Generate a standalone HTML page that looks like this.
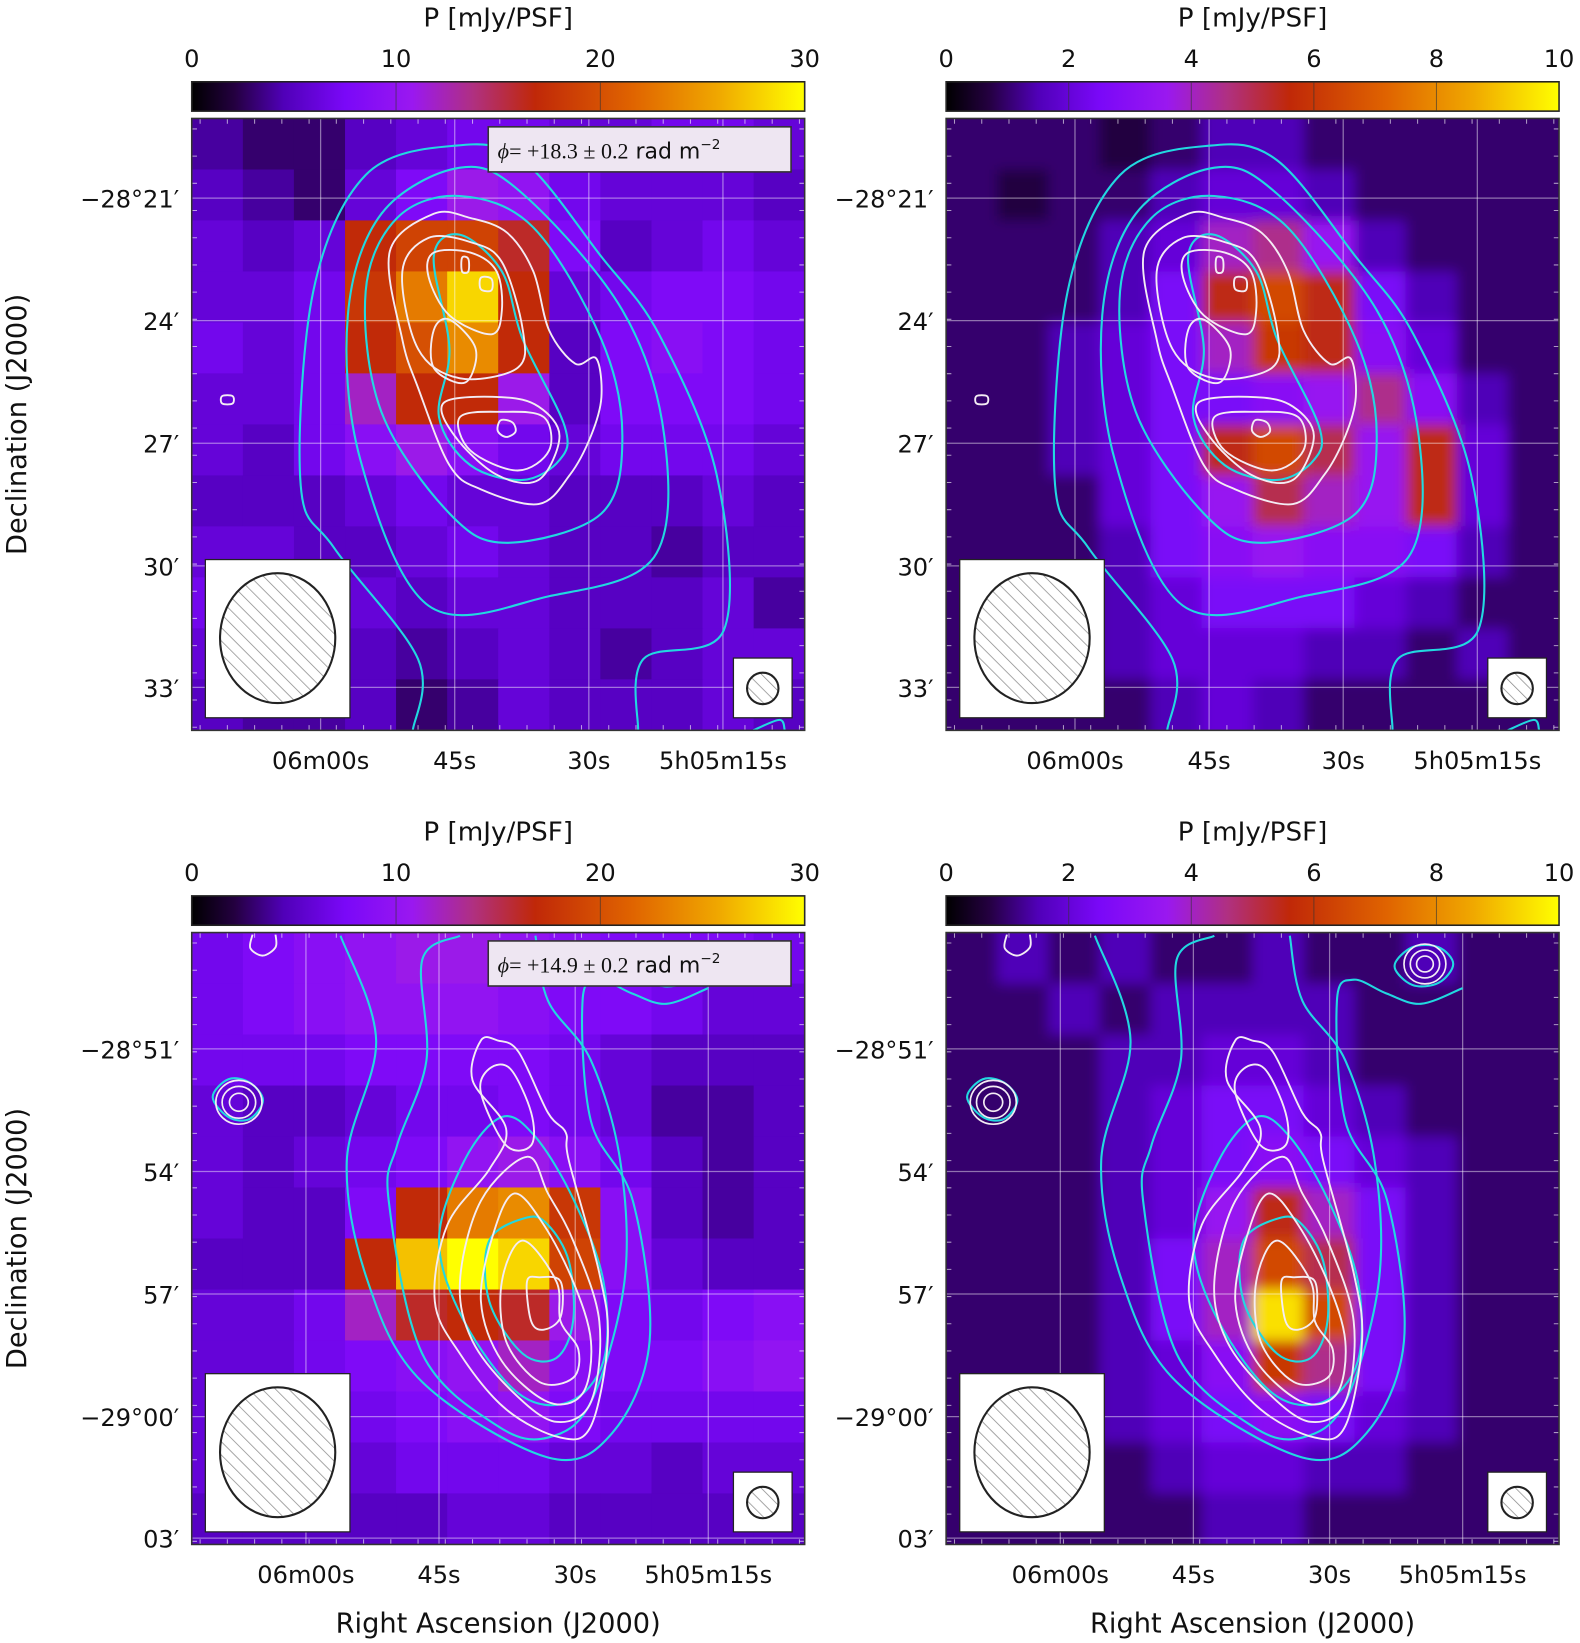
<!DOCTYPE html>
<html><head><meta charset="utf-8">
<style>
html,body{margin:0;padding:0;background:#fff;}
svg{display:block;}
text{font-family:"DejaVu Sans","Liberation Sans",sans-serif;fill:#111;}
</style></head>
<body>
<svg id="fig" xmlns="http://www.w3.org/2000/svg" width="1580" height="1643" viewBox="0 0 1508 1568">
<defs>
<pattern id="hatch" patternUnits="userSpaceOnUse" width="9" height="9" patternTransform="rotate(-45)">
<line x1="0" y1="0" x2="0" y2="9" stroke="#888" stroke-width="1.4"/>
</pattern>
<filter id="blur" x="-5%" y="-5%" width="110%" height="110%"><feGaussianBlur stdDeviation="6"/></filter>
<linearGradient id="cmap" x1="0" x2="1" y1="0" y2="0">
<stop offset="0" stop-color="#000000"/><stop offset="0.07" stop-color="#240040"/>
<stop offset="0.15" stop-color="#5000b8"/><stop offset="0.25" stop-color="#7a08f8"/>
<stop offset="0.36" stop-color="#9a18f0"/><stop offset="0.46" stop-color="#b03080"/>
<stop offset="0.56" stop-color="#c02808"/><stop offset="0.72" stop-color="#e06400"/>
<stop offset="0.86" stop-color="#f0a800"/><stop offset="1" stop-color="#ffff00"/>
</linearGradient>
</defs>
</svg>
<script>
// ---- data ----
const gridTL = [
[4,3,3,5,6,7,7,6,6,7,7,6],
[5,4,3,6,8,11,10,7,6,6,6,5],
[6,5,6,17,19,19,16,8,5,6,7,6],
[6,6,7,18,23,28,17,6,7,8,8,7],
[7,6,7,17,20,24,17,5,8,9,8,7],
[6,6,7,12,17,17,11,5,8,8,8,7],
[6,5,7,9,11,9,7,6,7,7,7,6],
[5,5,5,6,7,6,6,5,5,5,6,5],
[6,6,5,5,6,7,6,5,5,4,5,5],
[7,7,6,6,5,6,6,5,5,5,6,4],
[6,6,5,5,4,5,6,5,4,5,6,6],
[5,4,4,5,3,4,6,5,5,5,6,5]];
const gridTR = [
[1,1,1,0.7,1,1.5,1.5,1,1,1,1,1],
[1,0.7,1,1,1.5,2,2,1.5,1,1,1,1],
[1,1,1,1.5,2,4,4.5,3.5,1.5,1,1,1],
[1,1,1,1.5,2.5,5.5,6.5,5.5,2.5,1.5,1,1],
[1,1,1.5,2,2.5,4,6,5.5,3,2,1,1],
[1,1,1.5,2,2.5,2.5,3,3.5,4.5,3,1.5,1],
[1,1,1.5,2,2.5,5.5,6.5,5,3.5,5.5,2,1],
[1,1,1,2,2.5,3.5,5,4,3.5,5.5,2,1],
[1,1,1,1.5,2.5,3,3.5,3,3,2.5,1.5,1],
[1,1,1,1.5,2,2.5,2.5,2.5,2,1.5,1,1],
[1,1,1,1.5,2,2,2,1.5,1.5,1,1.5,1],
[1,1,1,1,1.5,2,1.5,1,1,1,1,1]];
const gridBL = [
[7,8,9,10,11,11,10,9,8,8,8,7],
[7,8,9,10,10,10,9,8,8,7,6,6],
[7,7,7,8,8,8,8,7,6,5,5,5],
[6,5,5,6,7,7,8,7,6,4,4,5],
[6,5,6,7,8,10,11,9,7,5,4,5],
[6,5,5,8,17,23,24,18,9,5,4,5],
[5,5,5,17,27,30,28,19,9,6,5,5],
[6,6,7,12,16,17,16,11,8,7,8,9],
[6,6,7,8,9,10,12,9,8,8,9,10],
[6,6,7,7,8,9,10,8,7,7,7,7],
[6,6,6,6,7,7,7,6,6,5,6,6],
[5,5,5,5,5,6,6,5,5,5,5,5]];
const gridBR = [
[1,1.5,1,1.5,1,1,1.5,1,1,1.5,1,1],
[1,1,1.5,1,1.5,1.5,1.5,1.5,1,1,1,1],
[1,1,1,1.5,1.5,2,2,1.5,1,1,1,1],
[1,1,1,1.5,2,2.5,2.5,2,1.5,1,1,1],
[1,1,1,1.5,2,2.5,3,2.5,2,1.5,1,1],
[1,1,1,1.5,2,3.5,5.5,4,2.5,1.5,1,1],
[1,1,1,1.5,2.5,4,6.5,5,2.5,1.5,1,1],
[1,1,1,1.5,2.5,4,9.5,6.5,2.5,1.5,1,1],
[1,1,1,1.5,2,3,6,4.5,2.5,1.5,1,1],
[1,1,1,1.5,2,2.5,3,2.5,2,1.5,1,1],
[1,1,1,1,1.5,2,2,1.5,1.5,1,1,1],
[1,1,1,1,1,1.5,1.5,1,1,1,1,1]];
const cbTicksA = [0,10,20,30];
const cbTicksB = [0,2,4,6,8,10];
const raLabels = ["06m00s","45s","30s","5h05m15s"];
const raTopPos = [123,251,379,507];
const raBotPos = [109,236,366,493];
const decTop = ["\u221228\u00b021\u2032","24\u2032","27\u2032","30\u2032","33\u2032"];
const decBot = ["\u221228\u00b051\u2032","54\u2032","57\u2032","\u221229\u00b000\u2032","03\u2032"];
const decTopPos = [76,193,310,427,543];
const decBotPos = [111,228,345,462,578];
// ---- helpers ----
const NS="http://www.w3.org/2000/svg";
const svg=document.getElementById('fig');
function mk(tag,attrs,parent){const e=document.createElementNS(NS,tag);for(const k in attrs)e.setAttribute(k,attrs[k]);(parent||svg).appendChild(e);return e;}
const stops=[[0,[0,0,0]],[0.07,[36,0,64]],[0.15,[80,0,184]],[0.25,[122,8,248]],[0.36,[154,24,240]],[0.46,[176,48,128]],[0.56,[192,40,8]],[0.72,[224,100,0]],[0.86,[240,168,0]],[1,[255,255,0]]];
function cmap(t){t=Math.max(0,Math.min(1,t));for(let i=1;i<stops.length;i++){if(t<=stops[i][0]){const a=stops[i-1],b=stops[i];const f=(t-a[0])/(b[0]-a[0]);return 'rgb('+a[1].map((v,j)=>Math.round(v+(b[1][j]-v)*f)).join(',')+')';}}return 'rgb(255,255,0)';}
function smooth(pts,closed){
  const n=pts.length;let d='M'+pts[0][0]+','+pts[0][1];
  const P=i=>closed?pts[(i+n)%n]:pts[Math.max(0,Math.min(n-1,i))];
  const m=closed?n:n-1;
  for(let i=0;i<m;i++){const p0=P(i-1),p1=P(i),p2=P(i+1),p3=P(i+2);
    const c1=[p1[0]+(p2[0]-p0[0])/6,p1[1]+(p2[1]-p0[1])/6],c2=[p2[0]-(p3[0]-p1[0])/6,p2[1]-(p3[1]-p1[1])/6];
    d+=' C'+c1[0].toFixed(1)+','+c1[1].toFixed(1)+' '+c2[0].toFixed(1)+','+c2[1].toFixed(1)+' '+p2[0]+','+p2[1];}
  return d+(closed?'Z':'');}
const W=585,H=584;
const cTop={cyan:[
 {c:false,p:[[211,584],[216,516],[136,410],[104,350],[116,165],[166,54],[251,26],[316,40],[391,132],[446,206],[501,340],[508,488],[431,516],[426,584]]},
 {c:true,p:[[256,47],[181,91],[149,188],[161,326],[226,465],[341,456],[441,419],[451,303],[411,183],[316,72]]},
 {c:true,p:[[256,74],[196,95],[166,165],[181,280],[246,377],[301,405],[391,377],[411,303],[391,211],[326,104]]},
 {c:true,p:[[256,111],[231,132],[246,220],[236,285],[266,331],[316,345],[351,326],[356,294],[316,211],[296,146]]},
 {c:false,p:[[536,584],[561,574],[566,584]]}],
 white:[
 {c:true,p:[[231,91],[189,127],[201,211],[216,257],[246,331],[276,354],[331,368],[361,340],[381,303],[391,266],[386,229],[366,234],[341,202],[326,146],[301,109],[266,95]]},
 {c:true,p:[[226,114],[201,146],[216,220],[256,248],[311,238],[316,202],[296,137],[266,118]]},
 {c:true,p:[[231,128],[226,151],[246,188],[286,206],[296,183],[291,146],[266,128]]},
 {c:true,p:[[231,202],[231,238],[261,252],[271,220],[246,192]]},
 {c:true,p:[[241,271],[251,303],[291,340],[331,345],[351,303],[331,275],[296,266]]},
 {c:true,p:[[256,285],[266,317],[311,336],[341,317],[336,285],[296,280]]},
 {c:true,p:[[295,288],[306,290],[309,299],[300,304],[292,298]]},
 {c:true,p:[[258,133],[264,134],[264,146],[258,146]]},
 {c:true,p:[[276,152],[286,153],[286,164],[276,163]]},
 {c:true,p:[[29,265],[39,265],[39,272],[29,272]]}]};
const cBot={cyan:[
 {c:false,p:[[142,3],[176,103],[148,218],[168,333],[220,429],[340,501],[401,478],[437,390],[421,256],[381,180],[373,65],[389,45],[420,58],[453,68],[493,53]]},
 {c:false,p:[[256,3],[220,26],[224,122],[196,203],[188,256],[220,402],[292,471],[340,482],[381,448],[413,333],[409,218],[381,122],[340,65],[328,3]]},
 {c:true,p:[[296,176],[260,218],[236,294],[260,371],[312,440],[360,448],[393,409],[393,333],[365,256],[328,195]]},
 {c:true,p:[[320,272],[284,294],[284,352],[316,402],[348,406],[364,371],[360,314],[340,279]]},
 {c:true,p:[[20,157],[35,140],[55,143],[68,160],[55,178],[35,176]]},
 {c:true,p:[[428,32],[445,14],[470,14],[484,30],[470,48],[445,50]]}],
 white:[
 {c:true,p:[[276,103],[268,141],[300,187],[284,226],[244,279],[232,352],[256,402],[300,455],[352,482],[381,471],[397,390],[389,325],[360,218],[357,191],[340,172],[312,114],[292,103]]},
 {c:true,p:[[284,130],[276,153],[300,203],[324,203],[324,172],[304,130]]},
 {c:true,p:[[320,214],[276,256],[256,333],[268,390],[308,440],[348,467],[381,448],[389,371],[364,294],[340,249]]},
 {c:true,p:[[308,249],[288,287],[276,352],[296,409],[340,448],[373,440],[381,390],[364,333],[336,279]]},
 {c:true,p:[[316,294],[296,333],[300,390],[332,429],[364,425],[369,398],[352,371],[348,333]]},
 {c:true,p:[[320,333],[324,371],[336,379],[352,367],[352,333],[332,329]]},
 {c:false,p:[[58,2],[56,15],[68,22],[80,14],[80,2]]}],
 rings:[[45,162,[9,16,22]],[457,30,[8,14,20]]]};

function panel(o){
  const g=mk('g',{transform:'translate('+o.x+','+o.y+')'});
  
  
  const cbY=-35, cbH=28;
  const cbt=mk('text',{x:W/2,y:-88,'font-size':25,'text-anchor':'middle'},g);cbt.textContent='P [mJy/PSF]';
  
  const cb=mk('rect',{x:0,y:cbY,width:W,height:cbH,fill:'url(#cmap)',stroke:'#222','stroke-width':1.5},g);
  
  const ticks=o.cbTicks,vmax=ticks[ticks.length-1];
  ticks.forEach(v=>{const tx=v/vmax*W;
    mk('line',{x1:tx,x2:tx,y1:cbY,y2:cbY+cbH,stroke:'#333','stroke-width':1,'stroke-opacity':0.6},g);
    const t=mk('text',{x:tx,y:cbY-14,'font-size':23,'text-anchor':'middle'},g);t.textContent=v;
    });
  const clipId='clip'+o.name;
  const cp=mk('clipPath',{id:clipId},g);mk('rect',{x:0,y:0,width:W,height:H},cp);
  const hm=mk('g',{'clip-path':'url(#'+clipId+')'},g);
  
  const inner=mk('g',o.blur?{filter:'url(#blur)'}:{},hm);
  const rows=o.grid.length,cols=o.grid[0].length;
  const xs=i=>i*W/cols, ys=j=>j*H/rows;
  const pad=o.blur?1:0;
  o.grid.forEach((row,j)=>row.forEach((v,i)=>{
    const x0=xs(i)-(pad&&i==0?30:0), y0=ys(j)-(pad&&j==0?30:0);
    const x1=xs(i+1)+(pad&&i==cols-1?30:0), y1=ys(j+1)+(pad&&j==rows-1?30:0);
    const r=mk('rect',{x:x0.toFixed(1),y:y0.toFixed(1),width:(x1-x0+0.6).toFixed(1),height:(y1-y0+0.6).toFixed(1),fill:cmap(v/vmax)},inner);
    
    
  }));
  o.raPos.forEach(p=>mk('line',{x1:p,x2:p,y1:0,y2:H,stroke:'#fff','stroke-opacity':0.45,'stroke-width':1.2},hm));
  o.decPos.forEach(p=>mk('line',{x1:0,x2:W,y1:p,y2:p,stroke:'#fff','stroke-opacity':0.45,'stroke-width':1.2},hm));
  for(let k=0;k<23;k++){const p=k*W/22.5+8;mk('line',{x1:p,x2:p,y1:0,y2:5,stroke:'#fff','stroke-opacity':0.6},hm);mk('line',{x1:p,x2:p,y1:H-5,y2:H,stroke:'#fff','stroke-opacity':0.6},hm);
    const q=k*H/22.5+10;mk('line',{x1:0,x2:5,y1:q,y2:q,stroke:'#fff','stroke-opacity':0.6},hm);mk('line',{x1:W-5,x2:W,y1:q,y2:q,stroke:'#fff','stroke-opacity':0.6},hm);}
  const cg=mk('g',{'clip-path':'url(#'+clipId+')',fill:'none'},g);
  
  o.cont.cyan.forEach(c=>{const p=mk('path',{d:smooth(c.p,c.c),stroke:'#22d8e0','stroke-width':2},cg);
    });
  o.cont.white.forEach(c=>{const p=mk('path',{d:smooth(c.p,c.c),stroke:'#f4ecf4','stroke-width':1.8},cg);
    });
  (o.cont.rings||[]).forEach(r=>r[2].forEach(rad=>{const e=mk('ellipse',{cx:r[0],cy:r[1],rx:rad,ry:rad*0.95,stroke:'#f4ecf4','stroke-width':1.6},cg);
    }));
  const bb=mk('g',{},g);
  mk('rect',{x:13,y:421,width:138,height:151,fill:'#fff',stroke:'#222','stroke-width':1.2},bb);
  mk('ellipse',{cx:82,cy:496,rx:55,ry:62,fill:'url(#hatch)',stroke:'#222','stroke-width':2},bb);
  const sb=mk('g',{},g);
  mk('rect',{x:517,y:515,width:56,height:57,fill:'#fff',stroke:'#222','stroke-width':1.2},sb);
  mk('circle',{cx:545,cy:544,r:15,fill:'url(#hatch)',stroke:'#222','stroke-width':2},sb);
  const fr=mk('rect',{x:0,y:0,width:W,height:H,fill:'none',stroke:'#333','stroke-width':1.5},g);
  
  if(o.phi){const lb=mk('g',{},g);
    mk('rect',{x:283,y:8,width:289,height:43,fill:'#eee6f2',stroke:'#333','stroke-width':1.5},lb);
    const t=mk('text',{x:292,y:38,'font-size':21},lb);
    t.innerHTML='<tspan font-family="Liberation Serif,serif" font-style="italic">\u03d5</tspan><tspan font-family="Liberation Serif,serif">= +'+o.phi+' \u00b1 0.2</tspan> rad m<tspan dy="-9" font-size="13">\u22122</tspan>';}
  o.raPos.forEach((p,i)=>{const t=mk('text',{x:p,y:H+37,'font-size':23,'text-anchor':'middle'},g);t.textContent=raLabels[i];
    });
  o.decPos.forEach((p,i)=>{const t=mk('text',{x:-12,y:p+9,'font-size':23,'text-anchor':'end'},g);t.textContent=o.dec[i];
    });
  if(o.ylabel){const t=mk('text',{x:0,y:0,'font-size':26,'text-anchor':'middle',transform:'translate(-158,'+(H/2)+') rotate(-90)'},g);t.textContent='Declination (J2000)';
    }
  if(o.xlabel){const t=mk('text',{x:W/2,y:H+84,'font-size':26,'text-anchor':'middle'},g);t.textContent='Right Ascension (J2000)';
    }
}
panel({name:'panel-top-left',x:183,y:113,grid:gridTL,cbTicks:cbTicksA,blur:false,cont:cTop,raPos:raTopPos,decPos:decTopPos,dec:decTop,phi:'18.3',ylabel:true});
panel({name:'panel-top-right',x:903,y:113,grid:gridTR,cbTicks:cbTicksB,blur:true,cont:cTop,raPos:raTopPos,decPos:decTopPos,dec:decTop});
panel({name:'panel-bottom-left',x:183,y:890,grid:gridBL,cbTicks:cbTicksA,blur:false,cont:cBot,raPos:raBotPos,decPos:decBotPos,dec:decBot,phi:'14.9',ylabel:true,xlabel:true});
panel({name:'panel-bottom-right',x:903,y:890,grid:gridBR,cbTicks:cbTicksB,blur:true,cont:cBot,raPos:raBotPos,decPos:decBotPos,dec:decBot,xlabel:true});
</script>
</body></html>
